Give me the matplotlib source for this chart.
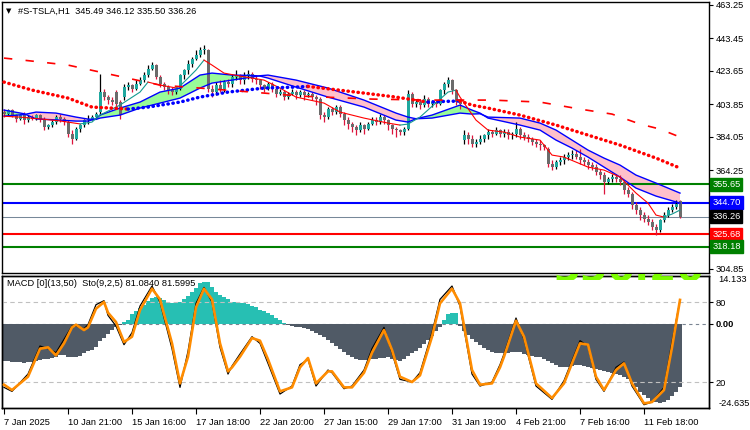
import matplotlib
matplotlib.use('Agg')
import matplotlib.pyplot as plt
import matplotlib.transforms as mtransforms
import numpy as np

plt.rcParams['font.family'] = ['Liberation Sans', 'DejaVu Sans']

# ---- H1 candles, #S-TSLA ----
opens = [
    399, 398, 400, 397, 395, 397, 394, 396, 395, 397,
    395, 390, 391, 393, 396, 395, 393, 386, 383, 389,
    391, 394, 395, 396, 399, 411, 408, 406, 411, 405,
    408, 414, 415, 413, 416, 418, 421, 425, 427, 420,
    416, 414, 412, 411, 413, 421, 424, 428, 431, 433,
    436, 436, 413, 411, 415, 413, 417, 416, 420, 421,
    418, 421, 422, 419, 418, 415, 413, 416, 413, 410,
    411, 408, 410, 411, 409, 411, 409, 410, 408, 407,
    397, 396, 401, 399, 402, 398, 394, 392, 390, 388,
    391, 389, 392, 394, 393, 396, 394, 391, 389, 388,
    387, 389, 410, 404, 405, 403, 407, 404, 405, 404,
    412, 416, 418, 412, 405, 382, 385, 383, 380, 381,
    383, 385, 387, 386, 388, 386, 387, 385, 386, 389,
    385, 384, 383, 381, 380, 379, 377, 368, 366, 369,
    370, 372, 373, 374, 372, 370, 369, 367, 366, 363,
    361, 357, 359, 360, 359, 357, 352, 350, 343, 340,
    337, 335, 333, 330, 328, 334, 337, 340, 342, 345.49,
]
highs = [
    401, 401, 401, 398, 398, 399, 397, 397, 398, 398,
    396, 392, 394, 397, 398, 396, 394, 388, 390, 392,
    395, 397, 397, 399, 422, 413, 409, 408, 412, 406,
    416, 417, 416, 418, 420, 423, 427, 429, 428, 421,
    417, 415, 414, 414, 422, 425, 430, 432, 436, 438,
    439, 437, 415, 417, 418, 418, 419, 422, 424, 422,
    423, 424, 423, 421, 419, 416, 417, 417, 414, 413,
    412, 411, 413, 412, 412, 412, 411, 411, 409, 408,
    399, 402, 402, 403, 403, 399, 396, 393, 391, 393,
    392, 393, 396, 396, 398, 397, 395, 392, 390, 389,
    390, 412, 411, 407, 407, 409, 408, 406, 406, 413,
    417, 420, 419, 413, 407, 388, 387, 385, 383, 385,
    386, 389, 388, 390, 389, 389, 389, 387, 393, 390,
    387, 386, 384, 383, 382, 380, 378, 370, 370, 372,
    374, 375, 376, 376, 377, 372, 371, 369, 368, 365,
    363, 360, 362, 362, 361, 358, 354, 351, 345, 342,
    339, 337, 335, 332, 335, 339, 342, 344, 346, 346.12,
]
lows = [
    396, 397, 396, 393, 394, 392, 393, 394, 394, 393,
    388, 389, 390, 392, 393, 391, 384, 380, 382, 387,
    390, 392, 394, 395, 397, 406, 404, 403, 402, 395,
    406, 412, 411, 412, 415, 417, 420, 424, 419, 414,
    412, 410, 409, 410, 412, 419, 422, 426, 430, 432,
    434, 411, 408, 409, 411, 411, 414, 414, 418, 416,
    416, 419, 417, 416, 413, 411, 412, 411, 408, 409,
    406, 407, 409, 407, 408, 406, 408, 406, 403, 395,
    393, 395, 397, 398, 396, 391, 389, 387, 385, 387,
    386, 388, 391, 391, 392, 392, 388, 386, 384, 385,
    385, 388, 402, 402, 401, 402, 402, 402, 402, 403,
    410, 414, 410, 403, 401, 380, 380, 378, 378, 380,
    381, 383, 384, 385, 384, 384, 383, 383, 384, 383,
    382, 381, 379, 378, 376, 376, 366, 364, 365, 367,
    368, 370, 371, 371, 368, 367, 365, 364, 361, 359,
    350, 356, 357, 357, 355, 350, 348, 341, 338, 334,
    333, 331, 328, 325.5, 327, 333, 336, 339, 341, 335.50,
]
closes = [
    398, 400, 397, 395, 397, 394, 396, 395, 397, 395,
    390, 391, 393, 396, 395, 393, 386, 383, 389, 391,
    394, 395, 396, 398, 411, 408, 406, 405, 404, 397,
    414, 415, 413, 416, 418, 421, 425, 427, 420, 416,
    414, 412, 411, 413, 421, 424, 428, 431, 433, 436,
    437, 413, 411, 415, 413, 417, 416, 420, 421, 418,
    421, 422, 419, 418, 415, 413, 416, 413, 410, 411,
    408, 410, 411, 409, 411, 409, 410, 408, 407, 397,
    396, 401, 399, 402, 398, 394, 392, 390, 388, 391,
    389, 392, 394, 393, 396, 394, 391, 389, 388, 387,
    389, 410, 404, 405, 403, 407, 404, 405, 404, 412,
    416, 418, 412, 405, 404, 385, 383, 380, 381, 383,
    385, 387, 386, 388, 386, 387, 385, 386, 389, 385,
    384, 383, 381, 380, 379, 378, 368, 366, 369, 370,
    372, 373, 374, 372, 370, 369, 367, 366, 363, 361,
    357, 359, 360, 359, 357, 352, 350, 343, 340, 337,
    335, 333, 330, 328, 334, 337, 340, 342, 344, 336.26,
]

# ---- moving averages (bar index / price) ----
fast_idx = [0, 4, 9, 14, 19, 22, 24, 29, 34, 36, 39, 43, 44, 48, 50, 52, 55, 59, 65, 69,
            73, 80, 84, 90, 96, 99, 101, 104, 111, 113, 114, 118, 121, 125, 129, 134, 137, 140,
            146, 150, 154, 158, 161, 163, 165, 167, 169]
fast_ma = [396.5, 396.0, 394.9, 393.7, 391.9, 393.0, 397.2, 403.2, 411.0, 417.0, 415.2, 413.5,
           414.6, 424.2, 430.2, 427.2, 422.4, 420.6, 418.2, 413.4, 408.0, 404.4, 399.0, 395.4,
           392.4, 391.2, 391.8, 396.0, 411.0, 412.2, 408.0, 394.2, 388.2, 387.0, 384.0, 382.2,
           373.2, 372.0, 366.0, 364.2, 360.0, 350.4, 344.4, 337.2, 336.0, 337.8, 340.2]

band_idx = [0, 5, 8, 13, 18, 21, 23, 24, 29, 34, 39, 44, 49, 52, 57, 62, 64, 66, 73, 81,
            90, 98, 101, 103, 107, 114, 117, 119, 121, 129, 134, 138, 142, 146, 150, 154, 158,
            163, 169]
band_fast = [400.2, 398.0, 394.9, 394.3, 393.6, 393.6, 395.0, 397.2, 401.4, 405.0, 411.0,
             413.4, 421.2, 422.4, 421.2, 421.0, 420.6, 419.4, 414.0, 408.0, 402.0, 394.2, 393.0,
             395.0, 397.2, 403.2, 400.2, 398.4, 395.4, 391.2, 388.2, 382.2, 377.4, 372.0, 366.0,
             360.0, 353.4, 348.6, 344.4]
band_slow = [396.6, 397.5, 399.0, 398.4, 396.0, 394.8, 394.6, 395.4, 397.2, 401.4, 404.4,
             407.4, 413.4, 416.4, 418.2, 420.0, 420.8, 421.2, 418.2, 413.4, 406.2, 398.4, 396.0,
             395.0, 395.4, 398.4, 397.8, 398.0, 396.0, 395.4, 392.4, 388.2, 382.2, 376.2, 371.4,
             367.2, 361.2, 356.4, 350.4]

dot_idx = [0, 7, 16, 22, 27, 31, 36, 44, 49, 56, 65, 73, 76, 90, 98, 106, 110, 114, 117,
           121, 129, 138, 146, 154, 163, 169]
dot_ma = [417.0, 412.2, 407.4, 402.0, 401.4, 400.8, 402.0, 405.0, 408.0, 411.0, 413.4, 414.0,
          414.4, 410.4, 408.0, 405.0, 405.4, 405.6, 403.2, 401.4, 397.2, 391.2, 385.2, 379.2,
          371.4, 365.4]

dash_idx = [0, 7, 16, 24, 32, 39, 49, 62, 74, 92, 106, 122, 134, 144, 152, 159, 164, 169]
dash_ma = [431.4, 429.6, 427.2, 423.0, 418.8, 415.2, 413.4, 411.0, 408.6, 406.8, 406.2, 406.2,
           405.0, 400.8, 397.8, 391.8, 388.8, 384.0]

level_prices = [355.65, 344.70, 336.26, 325.68, 318.18]
level_lines = ['#008000', '#0000ff', '#778899', '#ff0000', '#008000']
level_boxes = ['#008000', '#0000ff', '#000000', '#ff0000', '#008000']
level_widths = [2, 2, 1, 2, 2]
price_ticks = [463.25, 443.45, 423.65, 403.85, 384.05, 364.25, 344.45, 324.65, 304.85]
# the 344.45 and 324.65 labels sit behind the level boxes in the reference
hidden_ticks = [344.45, 324.65]

# ---- MACD histogram + stochastic ----
macd_hist = [
    -10.8, -11.0, -11.2, -11.3, -11.3, -11.4, -11.3, -11.2, -11.0, -10.7,
    -10.4, -10.3, -10.1, -9.6, -9.1, -9.0, -9.6, -9.8, -9.7, -9.3,
    -8.5, -7.9, -7.6, -6.8, -5.0, -4.0, -3.0, -1.9, -1.0, -0.3,
    0.5, 1.3, 2.8, 3.8, 4.8, 5.7, 6.8, 7.7, 8.0, 7.6,
    7.0, 6.6, 6.3, 6.2, 6.4, 7.2, 8.2, 9.4, 10.6, 12.0,
    12.4, 12.2, 10.8, 9.4, 8.6, 7.8, 7.2, 6.6, 6.4, 6.3,
    6.2, 5.9, 5.4, 4.9, 4.2, 3.8, 3.3, 2.6, 1.9, 1.2,
    0.4, -0.4, -0.7, -0.8, -0.9, -1.2, -1.6, -2.1, -2.6, -3.2,
    -3.8, -4.7, -5.5, -6.4, -7.4, -8.3, -9.2, -9.8, -10.3, -10.6,
    -10.7, -10.6, -10.4, -10.2, -10.0, -9.9, -9.8, -10.2, -10.6, -10.8,
    -10.4, -9.3, -8.5, -7.8, -7.0, -6.0, -4.8, -3.4, -2.2, -0.9,
    1.3, 2.8, 3.3, 3.2, -0.5, -2.0, -3.2, -4.3, -5.4, -6.3,
    -7.1, -7.7, -8.1, -8.5, -8.6, -8.6, -8.5, -8.3, -8.2, -8.3,
    -8.7, -9.1, -9.4, -9.7, -9.8, -10.3, -11.0, -11.6, -12.1, -12.5,
    -12.6, -12.6, -12.4, -12.1, -12.0, -12.2, -12.6, -13.0, -13.3, -13.5,
    -13.8, -14.0, -14.3, -14.7, -15.0, -15.6, -16.3, -17.3, -18.6, -20.0,
    -21.0, -21.8, -22.5, -23.0, -23.2, -22.9, -22.2, -21.2, -20.0, -18.6,
]
sto_idx = [0, 2, 6, 9, 11, 13, 15, 17, 18, 20, 21, 23, 25, 26, 28, 30, 32, 34, 37, 39,
           42, 44, 46, 48, 50, 52, 54, 56, 57, 59, 62, 64, 66, 69, 72, 74, 76, 78, 81, 82,
           85, 87, 90, 92, 95, 97, 99, 102, 104, 107, 109, 112, 114, 117, 119, 122, 124, 125,
           128, 130, 133, 137, 140, 144, 146, 148, 150, 153, 155, 157, 160, 162, 165, 167, 169]
sto_main = [16, 13, 26, 47, 45, 42, 52, 62, 62, 60, 63, 78, 81, 70, 62, 48, 57, 77, 92, 80,
            45, 16, 43, 79, 91, 80, 46, 26, 32, 41, 54, 49, 34, 11, 17, 33, 37, 17, 29, 27,
            15, 17, 29, 45, 61, 42, 22, 20, 27, 57, 82, 92, 77, 26, 17, 20, 33, 41, 68, 52,
            17, 7, 21, 51, 47, 22, 13, 31, 35, 17, 3, 5, 16, 50, 81.084]
sto_signal = [18, 14, 24, 45, 46, 40, 49, 61, 63, 59, 61, 75, 80, 72, 65, 50, 54, 74, 90, 82,
              49, 19, 39, 76, 90, 82, 49, 28, 31, 39, 53, 51, 37, 13, 16, 31, 38, 19, 28, 28,
              16, 16, 27, 42, 59, 44, 24, 20, 25, 54, 79, 90, 79, 29, 18, 19, 31, 39, 66, 54,
              19, 8, 19, 49, 48, 24, 14, 29, 34, 19, 4, 5, 14, 46, 81.5995]
hist_max, hist_min = 14.133, -24.635

date_idx = [0, 16, 32, 48, 64, 80, 96, 112, 128, 144, 160]
date_labels = ['7 Jan 2025', '10 Jan 21:00', '15 Jan 16:00', '17 Jan 18:00', '22 Jan 20:00',
               '27 Jan 15:00', '29 Jan 17:00', '31 Jan 19:00', '4 Feb 21:00', '7 Feb 16:00',
               '11 Feb 18:00']

W, H = 750, 430
FS = 6.7


def px_rect(left, top, right, bottom):
    return [left / W, 1 - bottom / H, (right - left) / W, (bottom - top) / H]


def slope_line(a, idx, vals, up, down, **kw):
    # colour each run of the line by its direction
    runs = []
    for k in range(len(idx) - 1):
        col = up if vals[k + 1] >= vals[k] else down
        if runs and runs[-1][0] == col:
            runs[-1][1].append(k + 1)
        else:
            runs.append([col, [k, k + 1]])
    for col, ks in runs:
        a.plot([idx[k] for k in ks], [vals[k] for k in ks], color=col, **kw)


fig = plt.figure(figsize=(W / 100, H / 100), dpi=100)
ax = fig.add_axes(px_rect(2, 1.5, 709, 273))
ax2 = fig.add_axes(px_rect(2, 275.5, 709, 408.3))

x = np.arange(len(closes))
o = np.array(opens)
c = np.array(closes)
up = c >= o

# band between the two blue averages
bf = np.array(band_fast)
bs = np.array(band_slow)
ax.fill_between(band_idx, bf, bs, where=bf >= bs, interpolate=True, color='#98fb98', lw=0, zorder=1)
ax.fill_between(band_idx, bf, bs, where=bf < bs, interpolate=True, color='#ffc0cb', lw=0, zorder=1)

for p, lc, lw in zip(level_prices, level_lines, level_widths):
    ax.axhline(p, color=lc, lw=lw * 0.75, zorder=1.5)

# candles
ax.vlines(x, lows, highs, colors=np.where(up, '#000000', '#dc143c'), lw=0.9, zorder=3)
ax.bar(x, np.maximum(np.abs(c - o), 0.35), bottom=np.minimum(o, c), width=0.75,
       color=np.where(up, '#1fa89f', '#6b6b6b'), lw=0, zorder=3.5)

ax.plot(band_idx, bf, color='#0000ff', lw=1.0, zorder=4)
ax.plot(band_idx, bs, color='#0000ff', lw=1.0, zorder=4)
slope_line(ax, fast_idx, fast_ma, '#149a90', '#ff0000', lw=0.8, zorder=4)
slope_line(ax, dot_idx, dot_ma, '#0000ff', '#ff0000', lw=2.5, ls=(0, (0.1, 1.35)),
           dash_capstyle='round', zorder=5)
ax.plot(dash_idx, dash_ma, color='#ff0000', lw=1.2, ls=(0, (5, 8)), zorder=5)

ax.set_xlim(-0.5, 176.25)
ax.set_ylim(302.45, 465.35)
ax.set_xticks([])
ax.yaxis.tick_right()
ax.set_yticks(price_ticks)
ax.set_yticklabels(['' if v in hidden_ticks else f'{v:.2f}' for v in price_ticks])
ax.tick_params(axis='y', direction='out', length=3, width=0.8, labelsize=FS, pad=2)

trans = mtransforms.blended_transform_factory(ax.transAxes, ax.transData)
for p, bc in zip(level_prices, level_boxes):
    ax.text(1.0045, p, f'{p:.2f}', transform=trans, ha='left', va='center', fontsize=FS,
            color='white', zorder=10, clip_on=False,
            bbox=dict(boxstyle='square,pad=0.22', fc=bc, ec=bc))

# ---- indicator window ----
hist = np.array(macd_hist)
ax2.bar(x, hist, width=0.78, color=np.where(hist > 0, '#27bfb3', '#505a66'), lw=0, zorder=1)
ax2.axhline(0, color='#7a8592', lw=0.8, ls=(0, (3, 3)), zorder=0.5)
ax2.set_ylim(-24.76, 14.24)
ax2.set_xlim(-0.5, 176.25)

ax3 = ax2.twinx()
ax3.axhline(80, color='#c0c0c0', lw=0.8, ls=(0, (4, 3)))
ax3.axhline(20, color='#c0c0c0', lw=0.8, ls=(0, (4, 3)))
ax3.plot(sto_idx, sto_main, color='black', lw=0.9, zorder=2)
ax3.plot(sto_idx, sto_signal, color='#ff8c00', lw=1.9, zorder=3)
ax3.set_ylim(0.3, 99.9)
ax3.set_yticks([80, 20])
ax3.set_yticklabels(['80', '20'])
ax3.tick_params(axis='y', direction='out', length=3, width=0.8, labelsize=FS, pad=2)

ax2.yaxis.tick_right()
ax2.set_yticks([0])
ax2.set_yticklabels(['0.00'], fontweight='bold')
ax2.tick_params(axis='y', direction='out', length=3, width=0.8, labelsize=FS, pad=2)
ax2.set_xticks(date_idx)
ax2.set_xticklabels(date_labels, ha='left')
ax2.tick_params(axis='x', direction='out', length=4, width=0.8, labelsize=FS, pad=3)
ax2.text(1.013, 1.0, f'{hist_max:.3f}', transform=ax2.transAxes, ha='left', va='top', fontsize=FS)
ax2.text(1.013, 0.0, f'{hist_min:.3f}', transform=ax2.transAxes, ha='left', va='bottom', fontsize=FS)

for a in (ax, ax2, ax3):
    for s in a.spines.values():
        s.set_color('black')
        s.set_linewidth(1)

# headers
fig.text(6 / W, 1 - 11 / H, '\u25bc', fontsize=5, va='center', family='DejaVu Sans')
fig.text(18 / W, 1 - 11 / H,
         f'#S-TSLA,H1  {opens[-1]:.2f} {highs[-1]:.2f} {lows[-1]:.2f} {closes[-1]:.2f}',
         fontsize=FS, va='center')
fig.text(7 / W, 1 - 284 / H,
         f'MACD [0](13,50)  Sto(9,2,5) {sto_main[-1]:.4f} {sto_signal[-1]:.4f}',
         fontsize=FS, va='center')

# large last-price label peeking out between the two windows
big = fig.text(553 / W, 1 - 281 / H, f'{closes[-1]:.2f}', fontsize=28, fontweight='bold',
               color='#7cfc00', va='baseline', family='DejaVu Sans')
big.set_clip_box(mtransforms.TransformedBbox(
    mtransforms.Bbox.from_extents(0, 1 - 280 / H, 1, 1 - 273.5 / H), fig.transFigure))
big.set_clip_on(True)

fig.savefig('out.png', dpi=100)
